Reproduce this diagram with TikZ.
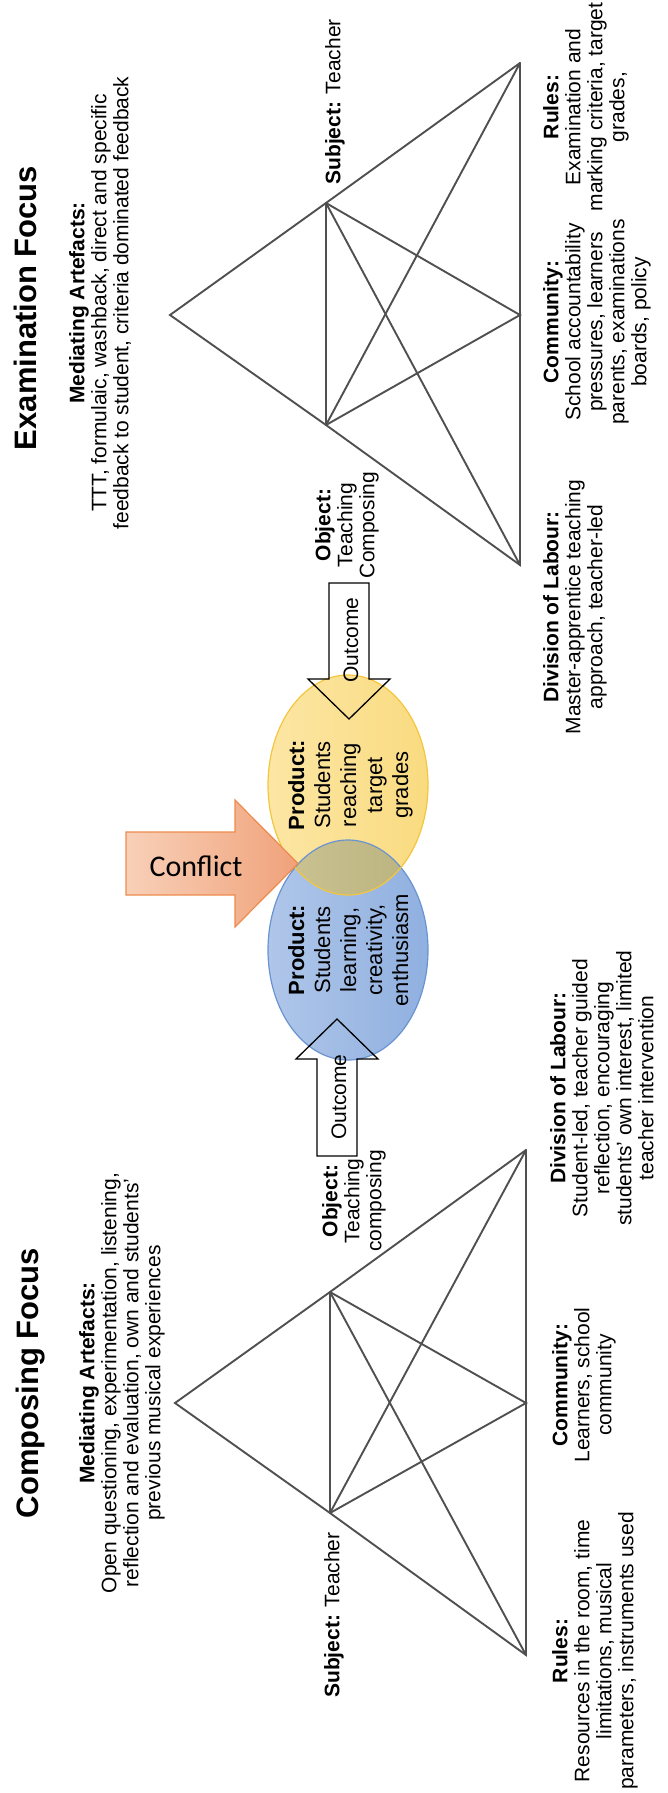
\documentclass[tikz,border=0pt]{standalone}
\usepackage{fontspec}
\setmainfont{Liberation Sans}
\newfontfamily\conflictfont{Carlito}
\definecolor{edgegray}{HTML}{505050}
\definecolor{ylwL}{HTML}{FCE6A4}
\definecolor{ylwR}{HTML}{F9DB80}
\definecolor{ylwE}{HTML}{F3C63E}
\definecolor{bluL}{HTML}{AFC6E9}
\definecolor{bluR}{HTML}{90B0E0}
\definecolor{bluE}{HTML}{6A93D2}
\definecolor{mixL}{HTML}{CCC594}
\definecolor{mixR}{HTML}{B9B27E}
\definecolor{orgL}{HTML}{F8D0B8}
\definecolor{orgR}{HTML}{F0A27A}
\definecolor{orgE}{HTML}{EE8B4E}
\begin{document}
\begin{tikzpicture}[x=1pt,y=-1pt,
  edge/.style={draw=edgegray, line width=1.9pt, line cap=round},
  lbl/.style={rotate=90, anchor=north, inner sep=0pt, align=center,
    font=\fontsize{21}{22}\selectfont},
  ttl/.style={rotate=90, anchor=north, inner sep=0pt,
    font=\fontsize{31}{32}\selectfont\bfseries},
  prod/.style={rotate=90, anchor=north, inner sep=0pt, align=center,
    font=\fontsize{22}{26}\selectfont},
  outc/.style={rotate=90, inner sep=0pt, font=\fontsize{21}{22}\selectfont},
  blockarrow/.style={draw=black, line width=1.3pt, line join=miter}]
\useasboundingbox (0,0) rectangle (668,1793);

% ---------- Examination activity system (top) ----------
\coordinate (eR) at (520,63);
\coordinate (eS) at (326,203);
\coordinate (eM) at (170,315);
\coordinate (eC) at (520,315);
\coordinate (eO) at (326,425);
\coordinate (eD) at (520,565);
\draw[edge] (eR) -- (eS) -- (eM) -- (eO) -- (eD) -- (eC) -- (eR);
\draw[edge] (eS) -- (eO);
\draw[edge] (eS) -- (eC) -- (eO);
\draw[edge] (eS) -- (eD);
\draw[edge] (eO) -- (eR);

% ---------- Composing activity system (bottom) ----------
\coordinate (cD) at (526,1150);
\coordinate (cO) at (330,1292);
\coordinate (cM) at (175,1403);
\coordinate (cC) at (526,1403);
\coordinate (cS) at (330,1513);
\coordinate (cR) at (526,1655);
\draw[edge] (cD) -- (cO) -- (cM) -- (cS) -- (cR) -- (cC) -- (cD);
\draw[edge] (cO) -- (cS);
\draw[edge] (cO) -- (cC) -- (cS);
\draw[edge] (cO) -- (cR);
\draw[edge] (cS) -- (cD);

% ---------- Products ----------
\path[left color=bluL, right color=bluR] (348,950) ellipse [x radius=80, y radius=110];
\path[left color=ylwL, right color=ylwR] (348,785) ellipse [x radius=80, y radius=110];
\begin{scope}
  \clip (348,950) ellipse [x radius=80, y radius=110];
  \path[left color=mixL, right color=mixR] (348,785) ellipse [x radius=80, y radius=110];
\end{scope}
\draw[bluE, line width=1.2pt] (348,950) ellipse [x radius=80, y radius=110];
\draw[ylwE, line width=1.2pt] (348,785) ellipse [x radius=80, y radius=110];

% ---------- Outcome arrows ----------
\draw[blockarrow] (329,583) -- (369,583) -- (369,679) -- (390,679) -- (349,719)
  -- (308,679) -- (329,679) -- cycle;
\draw[blockarrow] (317,1156) -- (357,1156) -- (357,1059) -- (378,1059) -- (337,1019)
  -- (296,1059) -- (317,1059) -- cycle;
\node[outc] (outE) at (351,640) {Outcome};
\node[outc] (outC) at (339,1097) {Outcome};

% ---------- Conflict arrow ----------
\path[draw=orgE, line width=1.2pt, left color=orgL, right color=orgR, line join=miter]
  (126,832) -- (235,832) -- (235,800) -- (298,863.5) -- (235,927) -- (235,895)
  -- (126,895) -- cycle;
\node[inner sep=0pt, font=\fontsize{30}{32}\selectfont\conflictfont] (conf) at (196,866) {Conflict};

% ---------- Labels: examination focus ----------
\node[ttl] (titleE) at (14,308) {Examination Focus};
\node[lbl] (medE) at (69,303) {\textbf{Mediating Artefacts:}\\
  TTT, formulaic, washback, direct and specific\\
  feedback to student, criteria dominated feedback};
\node[lbl] (subE) at (325,102) {\textbf{Subject:} Teacher};
\node[lbl] (objE) at (315,525) {\textbf{Object:}\\Teaching\\Composing};
\node[lbl] (rulE) at (543,107) {\textbf{Rules:}\\Examination and\\marking criteria, target\\grades,};
\node[lbl] (comE) at (543,322) {\textbf{Community:}\\School accountability\\pressures, learners\\parents, examinations\\boards, policy};
\node[lbl] (dolE) at (543,607) {\textbf{Division of Labour:}\\Master-apprentice teaching\\approach, teacher-led};
\node[prod] (prodE) at (288,785) {\textbf{Product:}\\Students\\reaching\\target\\grades};

% ---------- Labels: composing focus ----------
\node[ttl] (titleC) at (16,1383) {Composing Focus};
\node[lbl] (medC) at (79,1383) {\textbf{Mediating Artefacts:}\\
  Open questioning, experimentation, listening,\\
  reflection and evaluation, own and students'\\
  previous musical experiences};
\node[lbl] (subC) at (324,1615) {\textbf{Subject:} Teacher};
\node[lbl] (objC) at (322,1201) {\textbf{Object:}\\Teaching\\composing};
\node[lbl] (dolC) at (550,1088) {\textbf{Division of Labour:}\\Student-led, teacher guided\\reflection, encouraging\\students' own interest, limited\\teacher intervention};
\node[lbl] (comC) at (552,1385) {\textbf{Community:}\\Learners, school\\community};
\node[lbl] (rulC) at (552,1651) {\textbf{Rules:}\\Resources in the room, time\\limitations, musical\\parameters, instruments used};
\node[prod] (prodC) at (288,950) {\textbf{Product:}\\Students\\learning,\\creativity,\\enthusiasm};
\end{tikzpicture}
\end{document}
